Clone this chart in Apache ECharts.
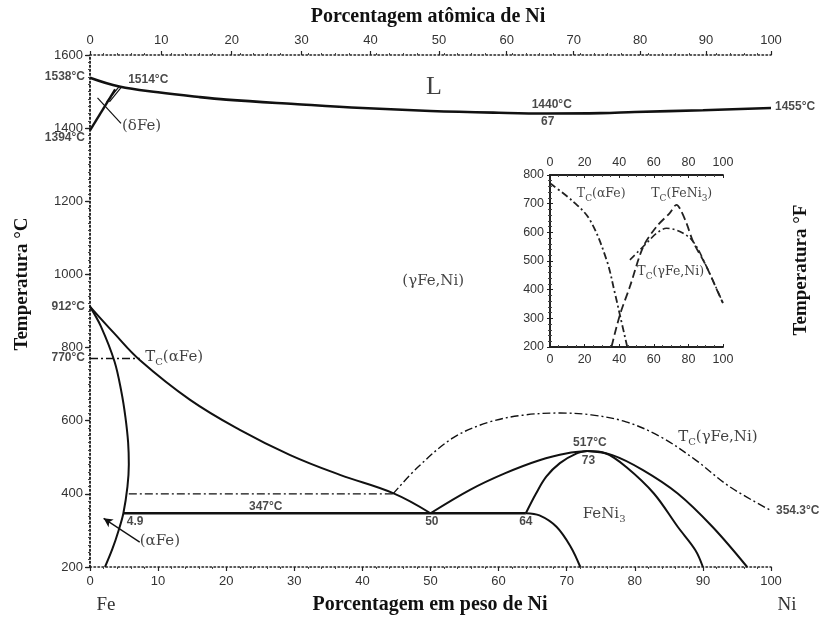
<!DOCTYPE html>
<html>
<head>
<meta charset="utf-8">
<title>Diagrama de fases Fe-Ni</title>
<script src="https://cdn.jsdelivr.net/npm/echarts@6/dist/echarts.min.js"></script>
<style>
  html, body { margin: 0; padding: 0; background: #fff; }
  #chart { width: 823px; height: 617px; }
</style>
</head>
<body>
<div id="chart"></div>
<script>
// ---- Fe-Ni phase diagram: composition in wt% Ni, temperature in °C ----

// Axis ticks
const weightTicks = [0, 10, 20, 30, 40, 50, 60, 70, 80, 90, 100];
const atomicTicks = [0, 10, 20, 30, 40, 50, 60, 70, 80, 90, 100];
const tempTicks = [200, 400, 600, 800, 1000, 1200, 1400, 1600];
const insetCompTicks = [0, 20, 40, 60, 80, 100];
const insetTempTicks = [200, 300, 400, 500, 600, 700, 800];

// Liquidus / solidus (minimum at 67 wt% Ni, 1440 °C)
const liquidus = [[0, 1538], [4.3, 1514], [10, 1498], [16, 1485], [20, 1478], [30, 1466], [40, 1455],
  [50, 1447], [60, 1442], [67, 1440], [75, 1441], [80, 1444], [90, 1449], [100, 1455]];

// delta-iron corner
const deltaGamma = [[0, 1394], [3.7, 1506]];
const deltaSolvusA = [[2.45, 1472], [4.3, 1514]];
const deltaSolvusB = [[2.85, 1472], [4.7, 1514]];
const deltaLeader = [[1.1, 1483], [4.55, 1413]];

// gamma / (alpha + gamma) and alpha / (alpha + gamma) boundaries
const gammaBoundary = [[0, 912], [3.5, 840], [7.3, 766], [14.7, 657], [22, 575], [29.4, 506],
  [36.7, 452], [44.5, 402], [50, 347]];
const alphaBoundary = [[0, 912], [1.6, 858], [3.6, 762], [4.6, 680], [5.2, 610], [5.6, 540], [5.7, 480],
  [5.5, 420], [4.9, 347], [4.2, 300], [3.3, 250], [2.2, 200]];

// Curie temperatures (dash-dot)
const curieAlpha = [[0, 770], [7.3, 770]];
const curie400 = [[5.7, 400], [44.5, 400]];
const curieGamma = [[44.5, 400], [48.2, 474], [53.3, 553], [58.4, 595], [63.5, 615], [69, 621],
  [73.6, 616], [78.7, 597], [83.8, 556], [88.9, 493], [93.9, 420], [100, 354.3]];

// Eutectoid 347 °C
const eutectoid = [[4.9, 347], [64, 347]];

// FeNi3 ordered phase (congruent at 73 wt% Ni, 517 °C)
const gammaFeNi3Left = [[50, 347], [55.8, 411], [60.9, 456], [66, 492], [70.1, 511], [73, 517]];
const feNi3Left = [[64, 347], [65.5, 401], [67, 447], [69, 484], [71.4, 510], [73, 517]];
const feNi3Right = [[73, 517], [75.7, 511], [78.7, 474], [82.8, 401], [86.3, 310], [88.9, 246], [90, 200]];
const gammaFeNi3Right = [[73, 517], [76.7, 506], [81.2, 465], [86.3, 401], [91.4, 310], [96.5, 200]];
const feNi3Lower = [[64, 347], [66, 341], [68.5, 310], [70.6, 255], [72, 200]];

// Arrow pointing into the (alpha Fe) field
const alphaArrow = [[7.3, 268], [2.0, 333]];

// Inset: magnetic transition temperatures
const insetCurieAlpha = [[0, 771], [13.5, 707], [23.1, 643], [32.7, 504], [37.5, 388], [40.4, 312], [44.6, 202]];
const insetCurieFeNi3 = [[35.6, 202], [40.4, 312], [46.2, 411], [53.9, 550], [61.6, 620], [69.2, 667],
  [73.1, 696], [75, 684], [78.9, 632], [82.7, 568], [90.4, 481], [99, 365], [100, 353]];
const insetCurieGamma = [[46.2, 504], [55.8, 562], [61.5, 596], [67.3, 614], [75, 603], [82.7, 568],
  [90.4, 481], [100, 353]];

// Text notes placed at composition / temperature coordinates
const tempNotes = [
  ['1538°C', 0, 1540, 'left', 5],
  ['1394°C', 0, 1373, 'left', 5],
  ['912°C', 0, 912, 'left', 5],
  ['770°C', 0, 772, 'left', 5],
  ['1514°C', 5.6, 1532, 'right', 0],
  ['1440°C', 67.8, 1463, 'inside', 0],
  ['67', 67.2, 1417, 'inside', 0],
  ['1455°C', 100, 1458, 'right', 4],
  ['347°C', 25.8, 364, 'inside', 0],
  ['4.9', 5.4, 323, 'right', 0],
  ['50', 50.2, 323, 'inside', 0],
  ['64', 64, 323, 'inside', 0],
  ['517°C', 73.4, 539, 'inside', 0],
  ['73', 73.2, 490, 'inside', 0],
  ['354.3°C', 100, 354.3, 'right', 5]
];
const phaseNotes = [
  ['{p|L}', 50.5, 1512, 'inside'],
  ['{t|(δFe)}', 4.7, 1403, 'right'],
  ['{t|(γFe,Ni)}', 50.4, 979, 'inside'],
  ['{t|T}{s|C}{t|(αFe)}', 8.1, 772, 'right'],
  ['{t|(αFe)}', 7.3, 268, 'right'],
  ['{t|FeNi}{s|3}', 75.5, 342, 'inside'],
  ['{t|T}{s|C}{t|(γFe,Ni)}', 92.2, 553, 'inside']
];
const insetNotes = [
  ['{t|T}{s|C}{t|(αFe)}', 15.5, 732, 'right'],
  ['{t|T}{s|C}{t|(FeNi}{s|3}{t|)}', 58.5, 732, 'right'],
  ['{t|T}{s|C}{t|(γFe,Ni)}', 50.5, 460, 'right']
];

// Conversion between weight % and atomic % Ni (Fe 55.85, Ni 58.69 g/mol)
const M_FE = 55.85, M_NI = 58.69;
const atomicToWeight = a => 100 * a * M_NI / (a * M_NI + (100 - a) * M_FE);
const weightToAtomic = w => 100 * (w / M_NI) / (w / M_NI + (100 - w) / M_FE);

const INK = '#111';
const plain = v => String(v);
const TICK_FONT = { fontFamily: 'Liberation Sans', fontSize: 13, color: '#333', formatter: plain };
const dotted = { type: [1.5, 2.5], width: 1.6, color: '#222' };
const dashDot = { type: [8, 3, 2, 3], width: 1.4, color: INK };

function curve(data, style, extra) {
  return Object.assign({
    type: 'line', data: data, symbol: 'none', showSymbol: false, silent: true,
    smooth: 0.3, xAxisIndex: 0, yAxisIndex: 0, z: 3,
    lineStyle: Object.assign({ color: INK, width: 2 }, style || {})
  }, extra || {});
}

const richMain = {
  t: { fontFamily: 'DejaVu Serif', fontSize: 15, color: INK, lineHeight: 17, verticalAlign: 'top' },
  s: { fontFamily: 'DejaVu Serif', fontSize: 10, color: INK, lineHeight: 11, padding: [8, 0, 0, 0], verticalAlign: 'top' },
  p: { fontFamily: 'Liberation Serif', fontSize: 26, color: INK }
};
const richInset = {
  t: { fontFamily: 'DejaVu Serif', fontSize: 12.5, color: INK, lineHeight: 15, verticalAlign: 'top' },
  s: { fontFamily: 'DejaVu Serif', fontSize: 9, color: INK, lineHeight: 10, padding: [7, 0, 0, 0], verticalAlign: 'top' }
};

function noteSeries(list, rich, xi, yi) {
  return {
    type: 'scatter', xAxisIndex: xi, yAxisIndex: yi, symbolSize: 0, silent: true, z: 5,
    data: list.map(n => ({
      value: [n[1], n[2]],
      label: { show: true, formatter: n[0], position: n[3], distance: 0, rich: rich }
    }))
  };
}

const insetLabel = { fontFamily: 'Liberation Sans', fontSize: 12.5, color: '#333', margin: 6, formatter: plain };

const option = {
  animation: false,
  backgroundColor: '#fff',
  grid: [
    { left: 90, right: 52, top: 55, bottom: 50 },
    { left: 550, top: 175, width: 173, height: 172 }
  ],
  xAxis: [
    { // weight percent, bottom
      gridIndex: 0, type: 'value', position: 'bottom', min: 0, max: 100, interval: 10,
      axisLine: { lineStyle: dotted },
      axisTick: { show: true, length: 4, lineStyle: { color: '#222', width: 1.2 } },
      minorTick: { show: true, splitNumber: 5, length: 2, lineStyle: { color: '#444' } },
      splitLine: { show: false },
      axisLabel: Object.assign({ margin: 8 }, TICK_FONT)
    },
    { // atomic percent, top
      gridIndex: 0, type: 'value', position: 'top', min: 0, max: 100, interval: 10,
      axisLine: { lineStyle: dotted },
      axisTick: { show: true, length: 4, customValues: atomicTicks.map(atomicToWeight), lineStyle: { color: '#222', width: 1.2 } },
      minorTick: { show: true, splitNumber: 5, length: 2, lineStyle: { color: '#444' } },
      splitLine: { show: false },
      axisLabel: Object.assign({}, TICK_FONT, {
        margin: 8,
        customValues: atomicTicks.map(atomicToWeight),
        formatter: v => String(Math.round(weightToAtomic(v)))
      })
    },
    { // inset bottom
      gridIndex: 1, type: 'value', position: 'bottom', min: 0, max: 100, interval: 20,
      axisLine: { lineStyle: { color: '#222', width: 1.8 } },
      axisTick: { show: true, inside: true, length: 3, lineStyle: { color: '#222' } },
      minorTick: { show: true, splitNumber: 4, length: 2, lineStyle: { color: '#444' } },
      splitLine: { show: false },
      axisLabel: insetLabel
    },
    { // inset top
      gridIndex: 1, type: 'value', position: 'top', min: 0, max: 100, interval: 20,
      axisLine: { lineStyle: { color: '#222', width: 1.8 } },
      axisTick: { show: true, inside: true, length: 3, lineStyle: { color: '#222' } },
      minorTick: { show: true, splitNumber: 4, length: 2, lineStyle: { color: '#444' } },
      splitLine: { show: false },
      axisLabel: insetLabel
    }
  ],
  yAxis: [
    { // temperature °C
      gridIndex: 0, type: 'value', position: 'left', min: 200, max: 1600, interval: 200,
      axisLine: { show: true, lineStyle: dotted },
      axisTick: { show: true, length: 5, lineStyle: { color: '#222', width: 1.2 } },
      minorTick: { show: true, splitNumber: 10, length: 2, lineStyle: { color: '#444' } },
      splitLine: { show: false },
      axisLabel: Object.assign({ margin: 7 }, TICK_FONT)
    },
    { // temperature °F side (frame only)
      gridIndex: 0, type: 'value', position: 'right', min: 200, max: 1600, interval: 200,
      axisLine: { show: true, lineStyle: dotted },
      axisTick: { show: true, inside: true, length: 4, lineStyle: { color: '#222', width: 1.2 } },
      minorTick: { show: true, splitNumber: 10, length: 2, lineStyle: { color: '#444' } },
      splitLine: { show: false },
      axisLabel: { show: false }
    },
    { // inset left
      gridIndex: 1, type: 'value', position: 'left', min: 200, max: 800, interval: 100,
      axisLine: { show: true, lineStyle: { color: '#222', width: 1.8 } },
      axisTick: { show: true, inside: true, length: 3, lineStyle: { color: '#222' } },
      minorTick: { show: true, splitNumber: 5, length: 2, lineStyle: { color: '#444' } },
      splitLine: { show: false },
      axisLabel: insetLabel
    },
    { // inset right
      gridIndex: 1, type: 'value', position: 'right', min: 200, max: 800, interval: 100,
      axisLine: { show: true, lineStyle: { color: '#222', width: 1.8 } },
      axisTick: { show: true, inside: true, length: 3, lineStyle: { color: '#222' } },
      minorTick: { show: true, splitNumber: 5, length: 2, lineStyle: { color: '#444' } },
      splitLine: { show: false },
      axisLabel: { show: false }
    }
  ],
  series: [
    curve(liquidus, { width: 2.6 }, { smooth: 0.4 }),
    curve(deltaGamma, { width: 2.4 }, { smooth: false }),
    curve(deltaSolvusA, { width: 1.2 }, { smooth: false }),
    curve(deltaSolvusB, { width: 1.2 }, { smooth: false }),
    curve(deltaLeader, { width: 1.2 }, { smooth: false }),
    curve(gammaBoundary, { width: 2 }, { smooth: 0.4 }),
    curve(alphaBoundary, { width: 2 }, { smooth: 0.35 }),
    curve(curieAlpha, dashDot, { smooth: false }),
    curve(curie400, dashDot, { smooth: false }),
    curve(curieGamma, dashDot, { smooth: 0.35 }),
    curve(eutectoid, { width: 2.6 }, { smooth: false }),
    curve(gammaFeNi3Left, { width: 2 }, { smooth: 0.35 }),
    curve(feNi3Left, { width: 2 }, { smooth: 0.35 }),
    curve(feNi3Right, { width: 2 }, { smooth: 0.35 }),
    curve(gammaFeNi3Right, { width: 2 }, { smooth: 0.35 }),
    curve(feNi3Lower, { width: 2 }, { smooth: 0.35 }),
    {
      type: 'line', xAxisIndex: 0, yAxisIndex: 0, data: [], silent: true,
      markLine: {
        silent: true, symbol: ['none', 'arrow'], symbolSize: [7, 9],
        lineStyle: { type: 'solid', color: INK, width: 1.3 },
        label: { show: false },
        data: [[{ coord: alphaArrow[0] }, { coord: alphaArrow[1] }]]
      }
    },
    curve(insetCurieAlpha, { type: [7, 3, 2, 3], width: 1.8, color: '#222' }, { smooth: 0.35, xAxisIndex: 2, yAxisIndex: 2 }),
    curve(insetCurieFeNi3, { type: [8, 4], width: 1.8, color: '#222' }, { smooth: 0.3, xAxisIndex: 2, yAxisIndex: 2 }),
    curve(insetCurieGamma, { type: [7, 3, 2, 3], width: 1.6, color: '#222' }, { smooth: 0.35, xAxisIndex: 2, yAxisIndex: 2 }),
    {
      type: 'scatter', xAxisIndex: 0, yAxisIndex: 0, symbolSize: 0, silent: true, z: 5,
      data: tempNotes.map(n => ({
        value: [n[1], n[2]],
        label: {
          show: true, formatter: n[0], position: n[3], distance: n[4],
          fontFamily: 'Liberation Sans', fontWeight: 'bold', fontSize: 12, color: '#1a1a1a'
        }
      }))
    },
    noteSeries(phaseNotes, richMain, 0, 0),
    noteSeries(insetNotes, richInset, 2, 2)
  ],
  graphic: [
    { type: 'text', x: 428, y: 17, style: { text: 'Porcentagem atômica de Ni', font: 'bold 20px "Liberation Serif"', fill: INK, align: 'center', verticalAlign: 'middle', textAlign: 'center', textVerticalAlign: 'middle' } },
    { type: 'text', x: 430, y: 605, style: { text: 'Porcentagem em peso de Ni', font: 'bold 20px "Liberation Serif"', fill: INK, align: 'center', verticalAlign: 'middle', textAlign: 'center', textVerticalAlign: 'middle' } },
    { type: 'text', x: 22, y: 284, rotation: Math.PI / 2, style: { text: 'Temperatura °C', font: 'bold 19px "Liberation Serif"', fill: INK, align: 'center', verticalAlign: 'middle', textAlign: 'center', textVerticalAlign: 'middle' } },
    { type: 'text', x: 801, y: 270, rotation: Math.PI / 2, style: { text: 'Temperatura °F', font: 'bold 19px "Liberation Serif"', fill: INK, align: 'center', verticalAlign: 'middle', textAlign: 'center', textVerticalAlign: 'middle' } },
    { type: 'text', x: 106, y: 605, style: { text: 'Fe', font: '19px "Liberation Serif"', fill: '#333', align: 'center', verticalAlign: 'middle', textAlign: 'center', textVerticalAlign: 'middle' } },
    { type: 'text', x: 787, y: 605, style: { text: 'Ni', font: '19px "Liberation Serif"', fill: '#333', align: 'center', verticalAlign: 'middle', textAlign: 'center', textVerticalAlign: 'middle' } }
  ]
};

const chart = echarts.init(document.getElementById('chart'), null, { renderer: 'canvas' });
chart.setOption(option);
</script>
</body>
</html>
